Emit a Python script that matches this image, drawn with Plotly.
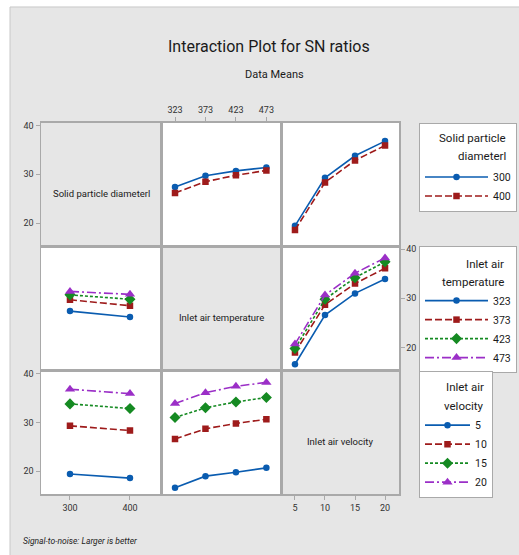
import plotly.graph_objects as go

# ---------------- data ----------------
factor_names = ["Solid particle diameterl", "Inlet air temperature", "Inlet air velocity"]
legend_title_lines = [["Solid particle", "diameterl"], ["Inlet air", "temperature"], ["Inlet air", "velocity"]]
diameters = [300, 400]
temperatures = [323, 373, 423, 473]
velocities = [5, 10, 15, 20]

# SN ratio means; rows = levels of first factor, cols = levels of second factor
sn_diam_temp = [[27.4, 29.7, 30.7, 31.4],
                [26.2, 28.5, 29.8, 30.8]]
sn_diam_vel = [[19.45, 29.3, 33.8, 36.8],
               [18.6, 28.35, 32.85, 35.9]]
sn_temp_vel = [[16.6, 26.6, 31.0, 33.9],
               [19.0, 28.7, 33.0, 36.1],
               [19.8, 29.8, 34.2, 37.4],
               [20.7, 30.65, 35.1, 38.2]]

y_ticks = [20, 30, 40]

# ---------------- helpers ----------------
levels = [diameters, temperatures, velocities]


def transpose(m):
    return [list(r) for r in zip(*m)]


def means(i, j):
    table = {(0, 1): sn_diam_temp, (0, 2): sn_diam_vel, (1, 2): sn_temp_vel}
    if (i, j) in table:
        return table[(i, j)]
    return transpose(table[(j, i)])


colors = ["#0a5cb0", "#9e1b1b", "#158a22", "#9b2fc7"]
dashes = ["solid", "7px,3px", "3px,2px", "9px,3px,2px,3px"]
symbols = ["circle", "square", "diamond", "triangle-up"]
msizes = [6.5, 6.5, 8.5, 9]

W, H = 519, 555


def px(x):
    return x / W


def py(y):
    return 1 - y / H


col_px = [(41, 161), (161, 281), (281, 399)]
row_px = [(121, 245), (245, 370), (370, 494)]
x_ranges = [[251.7, 451.7], [300, 497], [2.67, 22.33]]
y_range = [15.3, 40.6]
FONT = "Roboto, 'Open Sans', sans-serif"
GRID = "#a9a9a9"
BG = "#e6e6e6"
TXT = "#1a1a1a"

fig = go.Figure()
layout = {}
shapes = []
annotations = []

for r in range(3):
    for c in range(3):
        idx = r * 3 + c + 1
        sx = "" if idx == 1 else str(idx)
        xa = dict(domain=[px(col_px[c][0]), px(col_px[c][1])], range=x_ranges[c],
                  anchor="y" + sx, showgrid=False, zeroline=False,
                  showline=True, mirror=True, linecolor=GRID, linewidth=1.5,
                  tickvals=levels[c], ticks="", showticklabels=False,
                  tickfont=dict(size=9, family=FONT, color="#333"),
                  ticklen=4, tickcolor=GRID, fixedrange=True)
        ya = dict(domain=[py(row_px[r][1]), py(row_px[r][0])], range=y_range,
                  anchor="x" + sx, showgrid=False, zeroline=False,
                  showline=True, mirror=True, linecolor=GRID, linewidth=1.5,
                  tickvals=y_ticks, ticks="", showticklabels=False,
                  tickfont=dict(size=9, family=FONT, color="#333"),
                  ticklen=4, tickcolor=GRID, fixedrange=True)
        if r == 0 and c == 1:
            xa.update(side="top", ticks="outside", showticklabels=True)
        if r == 2 and c in (0, 2):
            xa.update(side="bottom", ticks="outside", showticklabels=True)
        if c == 0 and r in (0, 2):
            ya.update(side="left", ticks="outside", showticklabels=True)
        if r == 1 and c == 2:
            ya.update(side="right", ticks="outside", showticklabels=True)
        layout["xaxis" + sx] = xa
        layout["yaxis" + sx] = ya

        if r == c:
            # empty trace so the diagonal subplot is created
            fig.add_trace(go.Scatter(x=[], y=[], xaxis="x" + sx, yaxis="y" + sx,
                                     showlegend=False, hoverinfo="skip"))
            shapes.append(dict(type="rect", xref="x" + sx + " domain", yref="y" + sx + " domain",
                               x0=0, x1=1, y0=0, y1=1, fillcolor=BG,
                               line=dict(width=0), layer="below"))
            cx = (col_px[c][0] + col_px[c][1]) / 2
            cy = (row_px[r][0] + row_px[r][1]) / 2 + 9
            annotations.append(dict(text=factor_names[r], xref="paper", yref="paper",
                                    x=px(cx), y=py(cy), xanchor="center", yanchor="middle",
                                    showarrow=False,
                                    font=dict(size=9.5, family=FONT, color=TXT)))
            continue

        m = means(r, c)
        leg = "legend" if r == 0 else "legend" + str(r + 1)
        first_c = min(cc for cc in range(3) if cc != r)
        for k, lv in enumerate(levels[r]):
            fig.add_trace(go.Scatter(
                x=levels[c], y=m[k], mode="lines+markers",
                name=str(lv), legend=leg, legendgroup=f"g{r}_{k}",
                showlegend=(c == first_c),
                line=dict(color=colors[k], dash=dashes[k], width=1.6),
                marker=dict(symbol=symbols[k], size=msizes[k], color=colors[k]),
                xaxis="x" + sx, yaxis="y" + sx, hoverinfo="skip"))

# white margins and frame lines (top and left)
shapes.append(dict(type="rect", xref="paper", yref="paper", x0=-0.01, x1=px(10),
                   y0=-0.01, y1=1.01, fillcolor="white", line=dict(width=0), layer="above"))
shapes.append(dict(type="rect", xref="paper", yref="paper", x0=-0.01, x1=1.01,
                   y0=py(5), y1=1.01, fillcolor="white", line=dict(width=0), layer="above"))
shapes.append(dict(type="line", xref="paper", yref="paper", x0=px(10), x1=px(10),
                   y0=0, y1=py(5), line=dict(color="#c8c8c8", width=1), layer="above"))
shapes.append(dict(type="line", xref="paper", yref="paper", x0=px(10), x1=1,
                   y0=py(5), y1=py(5), line=dict(color="#c8c8c8", width=1), layer="above"))

annotations += [
    dict(text="Interaction Plot for SN ratios", xref="paper", yref="paper",
         x=px(269), y=py(45), xanchor="center", yanchor="middle", showarrow=False,
         font=dict(size=16, family=FONT, color=TXT)),
    dict(text="Data Means", xref="paper", yref="paper",
         x=px(274), y=py(73), xanchor="center", yanchor="middle", showarrow=False,
         font=dict(size=11, family=FONT, color=TXT)),
    dict(text="<i>Signal-to-noise: Larger is better</i>", xref="paper", yref="paper",
         x=px(21), y=py(541), xanchor="left", yanchor="middle", showarrow=False,
         font=dict(size=8.5, family=FONT, color="#222")),
]

leg_tops = [121, 245, 370]
leg_itemw = [63, 63, 45]
# right edge and line centres of the (right-aligned) legend titles
title_right = [508, 506, 486]
title_y = [(136, 155), (263, 281), (386, 405)]
for i in range(3):
    key = "legend" if i == 0 else "legend" + str(i + 1)
    layout[key] = dict(x=px(419), y=py(leg_tops[i]), xanchor="left", yanchor="top",
                       bgcolor="white", bordercolor=GRID, borderwidth=1,
                       itemwidth=leg_itemw[i], traceorder="grouped", tracegroupgap=0,
                       # two blank title lines reserve room for the right-aligned title
                       title=dict(text="\u00a0<br>\u00a0", side="top",
                                  font=dict(size=15, family=FONT, color=TXT)),
                       font=dict(size=10.5, family=FONT, color=TXT),
                       itemclick=False, itemdoubleclick=False)
    for line, yy in zip(legend_title_lines[i], title_y[i]):
        annotations.append(dict(text=line, xref="paper", yref="paper",
                                x=px(title_right[i]), y=py(yy), xanchor="right",
                                yanchor="middle", showarrow=False,
                                font=dict(size=11.5, family=FONT, color=TXT)))

fig.update_layout(**layout)
fig.update_layout(width=W, height=H, margin=dict(l=0, r=0, t=0, b=0), autosize=False,
                  paper_bgcolor=BG, plot_bgcolor="white",
                  shapes=shapes, annotations=annotations,
                  font=dict(family=FONT, color=TXT))

fig.write_html("out.html", config={"displayModeBar": False, "staticPlot": True},
               post_script="document.body.style.margin='0';"
                           "document.documentElement.style.overflow='hidden';")
